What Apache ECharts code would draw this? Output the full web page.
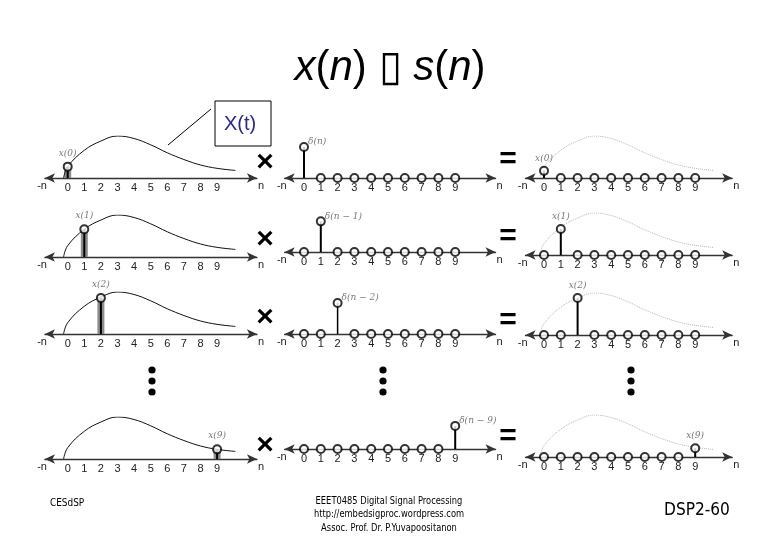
<!DOCTYPE html>
<html>
<head>
<meta charset="utf-8">
<script src="https://cdn.jsdelivr.net/npm/echarts@6/dist/echarts.min.js"></script>
<style>
html,body{margin:0;padding:0;background:#fff}
#chart{width:780px;height:540px}
</style>
</head>
<body>
<div id="chart"></div>
<script>
// x(n) 由 δ(n-k) 取样 —— 4 行 × 3 列小图
const N=[0,1,2,3,4,5,6,7,8,9];
const curveN=[-0.25,0,1,2,3,4,5,6,7,8,9,10.1];
const curveV=[0,0.27,0.66,0.88,1.0,0.94,0.79,0.60,0.44,0.31,0.23,0.18];
const shiftK=[0,1,2,9];
const leftSample=[0.27,0.66,0.86,0.23];
const deltaHeight=[0.74,0.73,0.74,0.55];
const rightSample=[0.17,0.62,0.88,0.21];
const sampleLabels=['x(0)','x(1)','x(2)','x(9)'];
const deltaLabels=['δ(n)','δ(n − 1)','δ(n − 2)','δ(n − 9)'];

// 版面（像素）
const COLS=[{x0:67.7,sp:16.6,min:-1.37,max:11.4},
            {x0:304,sp:16.8,min:-1.15,max:11.4},
            {x0:544,sp:16.8,min:-1.1,max:11.2}];
const BASE=[[178,257,334,459],[178,252,334,449],[178,255,335,457]];
const H=42;

const MATH={fontFamily:'DejaVu Serif',fontStyle:'italic',fontSize:9,color:'#555'};
const grids=[],xAxes=[],yAxes=[],series=[];
const curve=curveN.map((n,i)=>[n,curveV[i]]);

function addPanel(c,r){
  const g=grids.length, col=COLS[c];
  grids.push({left:col.x0+col.min*col.sp,width:(col.max-col.min)*col.sp,top:BASE[c][r]-H,height:H});
  xAxes.push({gridIndex:g,type:'value',min:col.min,max:col.max,
    axisLine:{onZero:false,symbol:['arrow','arrow'],symbolSize:[7,10],lineStyle:{color:'#333',width:1.4}},
    axisTick:{show:false},splitLine:{show:false},
    axisLabel:{customValues:N,color:'#222',fontSize:11,margin:4,fontFamily:'Liberation Sans'},
    name:'n',nameLocation:'end',nameGap:1,
    nameTextStyle:{color:'#222',fontSize:11,verticalAlign:'top',padding:[2,0,0,0],fontFamily:'Liberation Sans'}});
  xAxes.push({gridIndex:g,type:'value',min:col.min,max:col.max,
    axisLine:{show:false},axisTick:{show:false},axisLabel:{show:false},splitLine:{show:false},
    name:'-n',nameLocation:'start',nameGap:-2,
    nameTextStyle:{color:'#222',fontSize:11,verticalAlign:'top',padding:[2,0,0,0],fontFamily:'Liberation Sans'}});
  yAxes.push({gridIndex:g,type:'value',min:0,max:1,show:false});
  return {xAxisIndex:2*g,yAxisIndex:g};
}
const circle={symbol:'circle',symbolSize:8,itemStyle:{color:'#fff',borderColor:'#000',borderWidth:2}};

for(let r=0;r<4;r++){
  const k=shiftK[r];
  // 左：连续 x(t) 与取样条
  let ax=addPanel(0,r);
  series.push({type:'line',...ax,data:curve,smooth:0.4,showSymbol:false,silent:true,
    lineStyle:{color:'#111',width:1}});
  series.push({type:'bar',...ax,data:[[k,leftSample[r]]],barWidth:7,itemStyle:{color:'#8c8c8c'},silent:true});
  series.push({type:'line',...ax,data:[[k,0],[k,leftSample[r]]],showSymbol:false,lineStyle:{color:'#000',width:2}});
  series.push({type:'scatter',...ax,...circle,data:[[k,leftSample[r]]],z:5,
    label:{show:true,position:'top',distance:4,formatter:sampleLabels[r],...MATH}});
  // 中：δ(n-k)
  ax=addPanel(1,r);
  series.push({type:'line',...ax,data:[[k,0],[k,deltaHeight[r]]],showSymbol:false,
    lineStyle:{color:'#000',width:r===2?1.5:2}});
  series.push({type:'scatter',...ax,...circle,z:5,
    data:N.filter(n=>n!==k).map(n=>[n,0]).concat([[k,deltaHeight[r]]])});
  series.push({type:'scatter',...ax,symbolSize:0,data:[[k,deltaHeight[r]]],
    label:{show:true,position:'right',distance:4,offset:[0,-5],formatter:deltaLabels[r],...MATH}});
  // 右：乘积
  ax=addPanel(2,r);
  series.push({type:'line',...ax,data:curve,smooth:0.4,showSymbol:false,silent:true,
    lineStyle:{color:'#b5b5b5',width:1,type:'dotted'}});
  series.push({type:'line',...ax,data:[[k,0],[k,rightSample[r]]],showSymbol:false,lineStyle:{color:'#000',width:2}});
  series.push({type:'scatter',...ax,...circle,z:5,
    data:N.filter(n=>n!==k).map(n=>[n,0]).concat([[k,rightSample[r]]])});
  series.push({type:'scatter',...ax,symbolSize:0,data:[[k,rightSample[r]]],
    label:{show:true,position:'top',distance:8,formatter:sampleLabels[r],...MATH}});
}

// 运算符、省略号、注释框、页脚
const opY={times:[163,240,318,446],eq:[160,237,321,437]};
const graphic=[];
opY.times.forEach(y=>graphic.push({type:'text',x:265,y,style:{text:'×',font:'bold 30px Liberation Sans',fill:'#000',textAlign:'center',textVerticalAlign:'middle'}}));
opY.eq.forEach(y=>graphic.push({type:'text',x:508,y,style:{text:'=',font:'bold 30px Liberation Sans',fill:'#000',textAlign:'center',textVerticalAlign:'middle'}}));
[152,383,631].forEach(x=>[370,381,392].forEach(y=>
  graphic.push({type:'circle',shape:{cx:x,cy:y,r:3.6},style:{fill:'#000'}})));
graphic.push({type:'line',shape:{x1:168,y1:145,x2:211,y2:109},style:{stroke:'#000',lineWidth:1}});
graphic.push({type:'rect',shape:{x:215,y:101,width:56,height:45},style:{fill:'#fff',stroke:'#000',lineWidth:1}});
graphic.push({type:'text',x:240,y:124,style:{text:'X(t)',font:'20px Liberation Sans',fill:'#2a2a80',textAlign:'center',textVerticalAlign:'middle'}});
const FOOT='DejaVu Sans Condensed, sans-serif';
graphic.push({type:'text',x:50,y:503,scaleX:0.9,style:{text:'CESdSP',font:'11px '+FOOT,fill:'#000',textVerticalAlign:'middle'}});
['EEET0485 Digital Signal Processing','http://embedsigproc.wordpress.com','Assoc. Prof. Dr. P.Yuvapoositanon']
  .forEach((t,i)=>graphic.push({type:'text',x:389,y:501+i*13.5,scaleX:0.84,
    style:{text:t,font:'11px '+FOOT,fill:'#000',textAlign:'center',textVerticalAlign:'middle'}}));
graphic.push({type:'text',x:697,y:510,scaleX:0.95,style:{text:'DSP2-60',font:'18px '+FOOT,fill:'#000',textAlign:'center',textVerticalAlign:'middle'}});

const chart=echarts.init(document.getElementById('chart'));
chart.setOption({
  animation:false,
  title:{text:'{i|x}({i|n}) \u25AF {i|s}({i|n})',left:'center',top:42,
    textStyle:{fontSize:42,fontWeight:'normal',color:'#000',fontFamily:'Liberation Sans',
      rich:{i:{fontSize:42,fontStyle:'italic',fontFamily:'Liberation Sans',color:'#000'}}}},
  grid:grids,xAxis:xAxes,yAxis:yAxes,series,graphic
});
</script>
</body>
</html>
